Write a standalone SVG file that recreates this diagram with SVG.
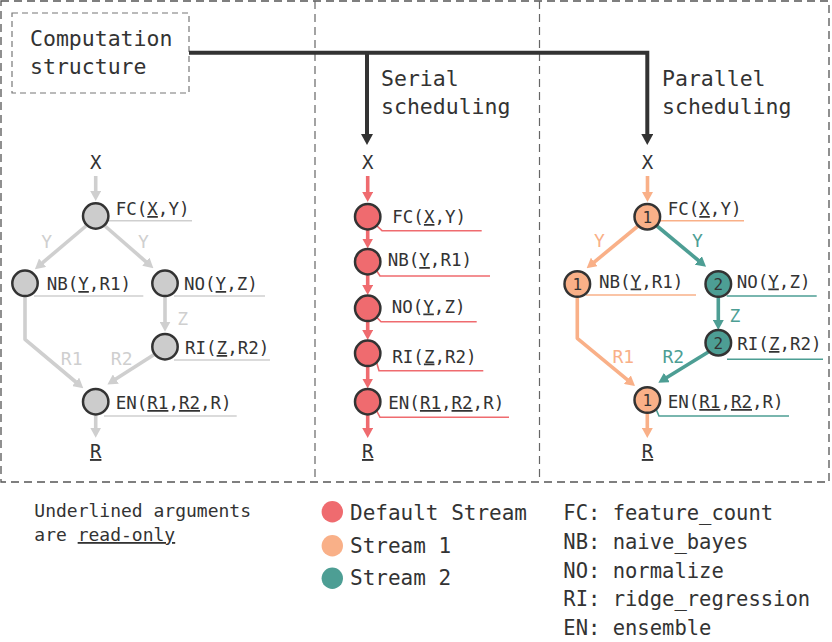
<svg xmlns="http://www.w3.org/2000/svg" width="832" height="642" viewBox="0 0 832 642">
<style>
text{font-family:"DejaVu Sans Mono","Liberation Mono",monospace;fill:#333}
.t{font-size:21.5px}
.nl{font-size:17.5px}
.v{font-size:19px}
.el{font-size:18px;text-anchor:middle}
.num{font-size:16px;text-anchor:middle}
.leg{font-size:21px}
.ab{font-size:20.5px}
.note{font-size:18px}
.u{text-decoration:underline}
.node{stroke:#333;stroke-width:2.5}
.gray{fill:#cccccc}
.red{fill:#ef6b6f}
.org{fill:#f9b088}
.teal{fill:#4d9e94}
.e{fill:none;stroke-width:3.6;stroke-linejoin:round}
.eg{stroke:#cfcfcf}
.er{stroke:#ef6b6f}
.eo{stroke:#f9b088}
.et{stroke:#4d9e94}
.ul{fill:none;stroke-width:1.6}
</style>
<defs>
<marker id="ag" markerUnits="userSpaceOnUse" markerWidth="10" markerHeight="11" refX="1" refY="5.5" orient="auto"><path d="M0,0 L10,5.5 L0,11 z" fill="#cfcfcf"/></marker>
<marker id="ar" markerUnits="userSpaceOnUse" markerWidth="10" markerHeight="11" refX="1" refY="5.5" orient="auto"><path d="M0,0 L10,5.5 L0,11 z" fill="#ef6b6f"/></marker>
<marker id="ao" markerUnits="userSpaceOnUse" markerWidth="10" markerHeight="11" refX="1" refY="5.5" orient="auto"><path d="M0,0 L10,5.5 L0,11 z" fill="#f9b088"/></marker>
<marker id="at" markerUnits="userSpaceOnUse" markerWidth="10" markerHeight="11" refX="1" refY="5.5" orient="auto"><path d="M0,0 L10,5.5 L0,11 z" fill="#4d9e94"/></marker>
<marker id="ad" markerUnits="userSpaceOnUse" markerWidth="11" markerHeight="12" refX="1" refY="6" orient="auto"><path d="M0,0 L11,6 L0,12 z" fill="#333"/></marker>
</defs>

<!-- frames -->
<g id="frames" fill="none">
<rect x="1" y="1" width="828" height="481" stroke="#555" stroke-width="1.3" stroke-dasharray="8 5"/>
<line x1="315" y1="1" x2="315" y2="482" stroke="#666" stroke-width="1.2" stroke-dasharray="8 5"/>
<line x1="539.5" y1="1" x2="539.5" y2="482" stroke="#666" stroke-width="1.2" stroke-dasharray="8 5"/>
</g>

<g id="computation-structure">
<rect x="12" y="13" width="177" height="80" fill="none" stroke="#777" stroke-width="1.2" stroke-dasharray="6 4"/>
<text class="t" x="30" y="46">Computation</text>
<text class="t" x="30" y="74">structure</text>
</g>

<g id="connectors">
<!-- top scheduling arrows -->
<path d="M189,52.7 H647.3 V135" fill="none" stroke="#333" stroke-width="4" stroke-linejoin="miter" marker-end="url(#ad)"/>
<path d="M367,52.7 V135" fill="none" stroke="#333" stroke-width="4" marker-end="url(#ad)"/>

<!-- panel 1 -->
<path class="e eg" d="M95.7,176 V192" marker-end="url(#ag)"/>
<path class="e eg" d="M86,226 L41.8,263.4" marker-end="url(#ag)"/>
<path class="e eg" d="M105,226 L146.6,262.3" marker-end="url(#ag)"/>
<path class="e eg" d="M25,296 V339.3 L76.4,382.5" marker-end="url(#ag)"/>
<path class="e eg" d="M165,296 V322.7" marker-end="url(#ag)"/>
<path class="e eg" d="M155,354 L115,379.6" marker-end="url(#ag)"/>
<path class="e eg" d="M95.7,414 V428.7" marker-end="url(#ag)"/>

<!-- panel 2 -->
<path class="e er" d="M367.7,176 V193" marker-end="url(#ar)"/>
<path class="e er" d="M367.7,229.4 V239.5" marker-end="url(#ar)"/>
<path class="e er" d="M367.7,274.4 V286" marker-end="url(#ar)"/>
<path class="e er" d="M367.7,321 V331" marker-end="url(#ar)"/>
<path class="e er" d="M367.7,366 V379.5" marker-end="url(#ar)"/>
<path class="e er" d="M367.7,414.4 V429" marker-end="url(#ar)"/>

<!-- panel 3 -->
<path class="e eo" d="M647.5,176 V193" marker-end="url(#ao)"/>
<path class="e eo" d="M638,226 L593.6,262.6" marker-end="url(#ao)"/>
<path class="e et" d="M657,226 L699.1,261" marker-end="url(#at)"/>
<path class="e eo" d="M577.3,297.5 V338.3 L628.1,380.3" marker-end="url(#ao)"/>
<path class="e et" d="M718.3,297 V321" marker-end="url(#at)"/>
<path class="e et" d="M708.3,352 L666,378" marker-end="url(#at)"/>
<path class="e eo" d="M647.3,413 V429" marker-end="url(#ao)"/>
</g>

<g id="edge-labels">
<text class="el" x="46.7" y="248" fill="#cfcfcf" style="fill:#cfcfcf">Y</text>
<text class="el" x="143.3" y="248" style="fill:#cfcfcf">Y</text>
<text class="el" x="182.7" y="325" style="fill:#cfcfcf">Z</text>
<text class="el" x="71.7" y="365" style="fill:#cfcfcf">R1</text>
<text class="el" x="121.7" y="365" style="fill:#cfcfcf">R2</text>
<text class="el" x="599.3" y="247" style="fill:#f9b088">Y</text>
<text class="el" x="697.3" y="247" style="fill:#4d9e94">Y</text>
<text class="el" x="735" y="322" style="fill:#4d9e94">Z</text>
<text class="el" x="623.3" y="363" style="fill:#f9b088">R1</text>
<text class="el" x="673.3" y="363" style="fill:#4d9e94">R2</text>
</g>

<g id="scheduling-labels">
<text class="t" x="381" y="86">Serial</text>
<text class="t" x="381" y="114">scheduling</text>
<text class="t" x="662" y="86">Parallel</text>
<text class="t" x="662" y="114">scheduling</text>
</g>

<!-- Panel 1: computation structure -->
<g id="p1-X"><text class="v" x="95.7" y="169" text-anchor="middle">X</text></g>
<g id="p1-FC">
<path class="ul" stroke="#cfcfcf" d="M107.5,220.7 H192"/>
<circle class="node gray" cx="95.7" cy="216" r="12.7"/>
<text class="nl" x="115.7" y="215">FC(<tspan class="u">X</tspan>,Y)</text>
</g>
<g id="p1-NB">
<path class="ul" stroke="#cfcfcf" d="M34,296 H143.3"/>
<circle class="node gray" cx="25" cy="283.3" r="12.7"/>
<text class="nl" x="46.7" y="290">NB(<tspan class="u">Y</tspan>,R1)</text>
</g>
<g id="p1-NO">
<path class="ul" stroke="#cfcfcf" d="M174,296 H265"/>
<circle class="node gray" cx="165" cy="283.3" r="12.7"/>
<text class="nl" x="184" y="290">NO(<tspan class="u">Y</tspan>,Z)</text>
</g>
<g id="p1-RI">
<path class="ul" stroke="#cfcfcf" d="M174,360 H270"/>
<circle class="node gray" cx="165" cy="346.7" r="12.7"/>
<text class="nl" x="185" y="354">RI(<tspan class="u">Z</tspan>,R2)</text>
</g>
<g id="p1-EN">
<path class="ul" stroke="#cfcfcf" d="M104,416 H236.7"/>
<circle class="node gray" cx="95.7" cy="401.7" r="12.7"/>
<text class="nl" x="115.7" y="409">EN(<tspan class="u">R1</tspan>,<tspan class="u">R2</tspan>,R)</text>
</g>
<g id="p1-R"><text class="v u" x="95.7" y="458" text-anchor="middle">R</text></g>

<!-- Panel 2: serial -->
<g id="p2-X"><text class="v" x="367.7" y="169" text-anchor="middle">X</text></g>
<g id="p2-FC">
<path class="ul" stroke="#ef6b6f" d="M376.5,225.5 L382,230.7 H481.7"/>
<circle class="node red" cx="367.7" cy="216.7" r="12.7"/>
<text class="nl" x="392.3" y="223">FC(<tspan class="u">X</tspan>,Y)</text>
</g>
<g id="p2-NB">
<path class="ul" stroke="#ef6b6f" d="M376.5,270.5 L380,276 H490"/>
<circle class="node red" cx="367.7" cy="261.7" r="12.7"/>
<text class="nl" x="387.7" y="266">NB(<tspan class="u">Y</tspan>,R1)</text>
</g>
<g id="p2-NO">
<path class="ul" stroke="#ef6b6f" d="M376.5,317 L381,321.7 H476.7"/>
<circle class="node red" cx="367.7" cy="308.3" r="12.7"/>
<text class="nl" x="391.7" y="312.5">NO(<tspan class="u">Y</tspan>,Z)</text>
</g>
<g id="p2-RI">
<path class="ul" stroke="#ef6b6f" d="M376.5,362 L379,370.7 H483.3"/>
<circle class="node red" cx="367.7" cy="353.3" r="12.7"/>
<text class="nl" x="392.3" y="362.5">RI(<tspan class="u">Z</tspan>,R2)</text>
</g>
<g id="p2-EN">
<path class="ul" stroke="#ef6b6f" d="M376.5,410.5 L380,417.3 H509"/>
<circle class="node red" cx="367.7" cy="401.7" r="12.7"/>
<text class="nl" x="388.3" y="409">EN(<tspan class="u">R1</tspan>,<tspan class="u">R2</tspan>,R)</text>
</g>
<g id="p2-R"><text class="v u" x="367.7" y="458" text-anchor="middle">R</text></g>

<!-- Panel 3: parallel -->
<g id="p3-X"><text class="v" x="647.5" y="169" text-anchor="middle">X</text></g>
<g id="p3-FC">
<path class="ul" stroke="#f9b088" d="M659,220.7 H744"/>
<circle class="node org" cx="647.3" cy="216.7" r="12.8"/>
<text class="num" x="647.3" y="222.5">1</text>
<text class="nl" x="667.7" y="215">FC(<tspan class="u">X</tspan>,Y)</text>
</g>
<g id="p3-NB">
<path class="ul" stroke="#f9b088" d="M586,295 H696"/>
<circle class="node org" cx="577.3" cy="284" r="12.8"/>
<text class="num" x="577.3" y="289.8">1</text>
<text class="nl" x="599" y="287.5">NB(<tspan class="u">Y</tspan>,R1)</text>
</g>
<g id="p3-NO">
<path class="ul" stroke="#4d9e94" d="M726.7,296 H816.7"/>
<circle class="node teal" cx="718.3" cy="284" r="12.8"/>
<text class="num" x="718.3" y="289.8">2</text>
<text class="nl" x="736.7" y="287.5">NO(<tspan class="u">Y</tspan>,Z)</text>
</g>
<g id="p3-RI">
<path class="ul" stroke="#4d9e94" d="M727,359.3 H823"/>
<circle class="node teal" cx="718.3" cy="342.7" r="12.8"/>
<text class="num" x="718.3" y="348.5">2</text>
<text class="nl" x="737.3" y="350">RI(<tspan class="u">Z</tspan>,R2)</text>
</g>
<g id="p3-EN">
<path class="ul" stroke="#4d9e94" d="M656,409 L659,416 H789"/>
<circle class="node org" cx="647.3" cy="400" r="12.8"/>
<text class="num" x="647.3" y="405.8">1</text>
<text class="nl" x="667.7" y="408">EN(<tspan class="u">R1</tspan>,<tspan class="u">R2</tspan>,R)</text>
</g>
<g id="p3-R"><text class="v u" x="647.5" y="458" text-anchor="middle">R</text></g>

<!-- notes & legend -->
<g id="note">
<text class="note" x="34.3" y="517">Underlined arguments</text>
<text class="note" x="34.3" y="541">are <tspan class="u">read-only</tspan></text>
</g>
<g id="legend">
<circle class="red" cx="332.3" cy="511.7" r="10.7"/>
<text class="leg" x="350" y="520">Default Stream</text>
<circle class="org" cx="332.3" cy="545.7" r="10.7"/>
<text class="leg" x="350" y="552.7">Stream 1</text>
<circle class="teal" cx="332.3" cy="578.3" r="10.7"/>
<text class="leg" x="350" y="585">Stream 2</text>
</g>
<g id="abbreviations">
<text class="ab" x="563.3" y="520">FC: feature_count</text>
<text class="ab" x="563.3" y="549">NB: naive_bayes</text>
<text class="ab" x="563.3" y="578">NO: normalize</text>
<text class="ab" x="563.3" y="606">RI: ridge_regression</text>
<text class="ab" x="563.3" y="634.5">EN: ensemble</text>
</g>
</svg>
